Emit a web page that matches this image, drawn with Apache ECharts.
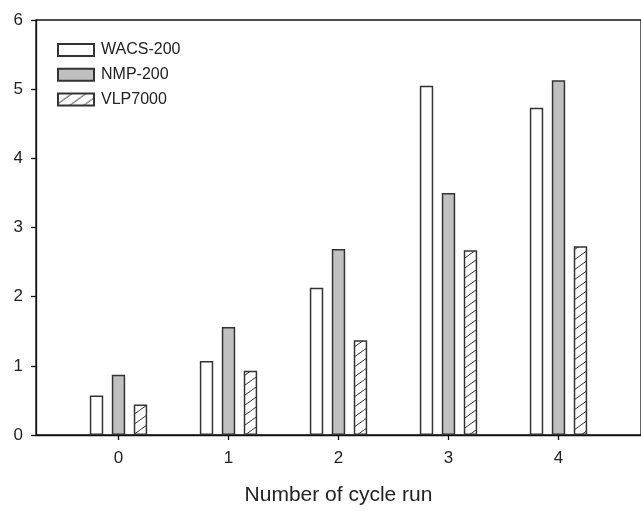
<!DOCTYPE html>
<html>
<head>
<meta charset="utf-8">
<script src="https://cdn.jsdelivr.net/npm/echarts@6/dist/echarts.min.js"></script>
<style>
  html, body { margin: 0; padding: 0; background: #fff; }
  #chart { width: 641px; height: 511px; }
</style>
</head>
<body>
<div id="chart"></div>
<script>
// Cycle runs and measured values per material
const cycles = [0, 1, 2, 3, 4];
const wacs200 = [0.57, 1.07, 2.13, 5.05, 4.73];
const nmp200 = [0.87, 1.56, 2.69, 3.50, 5.13];
const vlp7000 = [0.44, 0.93, 1.37, 2.67, 2.73];
const yTicks = [0, 1, 2, 3, 4, 5, 6];

// Diagonal hatch tile for the VLP7000 bars
function hatchTile() {
  const w = 14, h = 10;
  const c = document.createElement('canvas');
  c.width = w; c.height = h;
  const g = c.getContext('2d');
  g.fillStyle = '#fff';
  g.fillRect(0, 0, w, h);
  g.strokeStyle = '#333';
  g.lineWidth = 1;
  g.beginPath();
  [-w, 0, w].forEach(x0 => { g.moveTo(x0, h); g.lineTo(x0 + w, 0); });
  g.stroke();
  return c;
}

const font = '"Liberation Sans", Arial, Helvetica, sans-serif';
const pairs = arr => cycles.map((c, i) => [c, arr[i]]);

const barCommon = {
  type: 'bar',
  barWidth: 13.4,
  barGap: '64%',
  emphasis: { disabled: true }
};

const chart = echarts.init(document.getElementById('chart'), null, { renderer: 'canvas' });
chart.setOption({
  animation: false,
  backgroundColor: '#fff',
  textStyle: { fontFamily: font },
  grid: {
    left: 36, top: 20, width: 606, height: 421,
    show: true, borderColor: '#111', borderWidth: 1.3, backgroundColor: 'transparent'
  },
  legend: {
    orient: 'vertical',
    left: 57, top: 42, padding: 0,
    icon: 'rect',
    itemWidth: 36, itemHeight: 12, itemGap: 8.8,
    textStyle: { fontFamily: font, fontSize: 16, lineHeight: 12, color: '#222', padding: [0, 0, 0, 2] },
    data: ['WACS-200', 'NMP-200', 'VLP7000']
  },
  xAxis: {
    type: 'value',
    min: -0.75, max: 4.75,
    name: 'Number of cycle run',
    nameLocation: 'middle',
    nameGap: 50,
    nameTextStyle: { fontFamily: font, fontSize: 21, color: '#222' },
    splitLine: { show: false },
    axisLine: { onZero: false, lineStyle: { color: '#111', width: 1.3 } },
    axisTick: { show: true, inside: false, length: 5, customValues: cycles, lineStyle: { color: '#111', width: 1.3 } },
    axisLabel: { customValues: cycles, margin: 15, fontSize: 17, color: '#222', fontFamily: font }
  },
  yAxis: {
    type: 'value',
    min: 0, max: 6, interval: 1,
    splitLine: { show: false },
    axisLine: { show: true, onZero: false, lineStyle: { color: '#111', width: 1.3 } },
    axisTick: { show: true, inside: false, length: 5, lineStyle: { color: '#111', width: 1.3 } },
    axisLabel: { margin: 13, fontSize: 17, color: '#222', fontFamily: font,
      formatter: v => yTicks.includes(v) ? String(v) : '' }
  },
  series: [
    Object.assign({}, barCommon, {
      name: 'WACS-200',
      data: pairs(wacs200),
      itemStyle: { color: '#fff', borderColor: '#333', borderWidth: 1.5 }
    }),
    Object.assign({}, barCommon, {
      name: 'NMP-200',
      data: pairs(nmp200),
      itemStyle: { color: '#c0c0c0', borderColor: '#333', borderWidth: 1.5 }
    }),
    Object.assign({}, barCommon, {
      name: 'VLP7000',
      data: pairs(vlp7000),
      itemStyle: { color: { image: hatchTile(), repeat: 'repeat' }, borderColor: '#333', borderWidth: 1.5 }
    })
  ]
});
</script>
</body>
</html>
